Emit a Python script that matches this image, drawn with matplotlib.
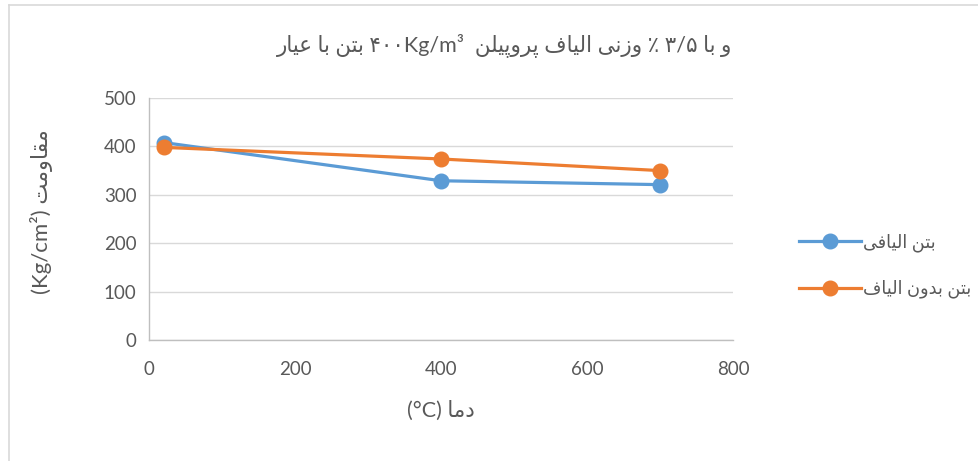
import matplotlib
matplotlib.use("Agg")

import matplotlib.pyplot as plt
from matplotlib.lines import Line2D

# Data
temps = [20, 400, 700]
with_fiber = [408, 329, 321]
without_fiber = [398, 374, 350]

x_ticks = [0, 200, 400, 600, 800]
y_ticks = [0, 100, 200, 300, 400, 500]

series_names = ["بتن الیافی", "بتن بدون الیاف"]
title_left = "بتن با عیار"
title_unit = "۴۰۰Kg/m³"
title_right = "و با ۳/۵ ٪ وزنی الیاف پروپیلن"
xlabel_fa = "دما"
ylabel_fa = "مقاومت"

blue = "#5B9BD5"
orange = "#ED7D31"

# Minimal Arabic/Persian shaping (matplotlib has no complex text layout)
# letter: (isolated, final, initial, medial); right-joining letters have only 2
FORMS = {
    "ا": ("\uFE8D", "\uFE8E"),
    "ب": ("\uFE8F", "\uFE90", "\uFE91", "\uFE92"),
    "پ": ("\uFB56", "\uFB57", "\uFB58", "\uFB59"),
    "ت": ("\uFE95", "\uFE96", "\uFE97", "\uFE98"),
    "د": ("\uFEA9", "\uFEAA"),
    "ر": ("\uFEAD", "\uFEAE"),
    "ز": ("\uFEAF", "\uFEB0"),
    "ع": ("\uFEC9", "\uFECA", "\uFECB", "\uFECC"),
    "ف": ("\uFED1", "\uFED2", "\uFED3", "\uFED4"),
    "ق": ("\uFED5", "\uFED6", "\uFED7", "\uFED8"),
    "ل": ("\uFEDD", "\uFEDE", "\uFEDF", "\uFEE0"),
    "م": ("\uFEE1", "\uFEE2", "\uFEE3", "\uFEE4"),
    "ن": ("\uFEE5", "\uFEE6", "\uFEE7", "\uFEE8"),
    "و": ("\uFEED", "\uFEEE"),
    "ی": ("\uFEEF", "\uFEF0", "\uFEF3", "\uFEF4"),
}


def shape_word(word):
    if not any(c in FORMS for c in word):
        return word
    out = []
    for i, c in enumerate(word):
        if c not in FORMS:
            out.append(c)
            continue
        prev = word[i-1] if i > 0 else None
        nxt = word[i+1] if i < len(word)-1 else None
        joins_prev = prev in FORMS and len(FORMS[prev]) == 4
        joins_next = nxt in FORMS and len(FORMS[c]) == 4
        f = FORMS[c]
        if joins_prev and joins_next:
            out.append(f[3])
        elif joins_prev:
            out.append(f[1])
        elif joins_next:
            out.append(f[2])
        else:
            out.append(f[0])
    return "".join(reversed(out))


def rtl(text):
    return " ".join(shape_word(w) for w in reversed(text.split()))


plt.rcParams["font.family"] = ["Lato", "DejaVu Sans"]
grey_text = "#595959"

fig = plt.figure(figsize=(9.79, 4.61), dpi=100)
W, H = 979, 461

# Chart frame (cropped on the right and bottom)
fig.add_artist(Line2D([9/W, 1], [1-5.5/H, 1-5.5/H], color="#d9d9d9", lw=1.2))
fig.add_artist(Line2D([9/W, 9/W], [0, 1-5.5/H], color="#d9d9d9", lw=1.2))

ax = fig.add_axes([149/W, 1-340/H, 584/W, 242/H])
ax.plot(temps, with_fiber, color=blue, lw=2.3, marker="o", ms=10.5, label=rtl(series_names[0]))
ax.plot(temps, without_fiber, color=orange, lw=2.3, marker="o", ms=10.5, label=rtl(series_names[1]))

ax.set_xlim(0, 800)
ax.set_ylim(0, 500)
ax.set_xticks(x_ticks)
ax.set_yticks(y_ticks)
ax.tick_params(length=0, labelsize=13.5, labelcolor=grey_text)
ax.tick_params(axis="x", pad=15)
ax.tick_params(axis="y", pad=9)
ax.grid(axis="y", color="#d9d9d9", lw=1)
ax.set_axisbelow(True)
for side in ("top", "right"):
    ax.spines[side].set_visible(False)
for side in ("left", "bottom"):
    ax.spines[side].set_color("#bfbfbf")
    ax.spines[side].set_linewidth(1)

fig.text(505/W, 1-45/H, rtl(title_left) + " " + title_unit + "  " + rtl(title_right),
         ha="center", va="center", fontsize=15.5, color=grey_text)
fig.text(441/W, 1-411/H, "(°C) " + rtl(xlabel_fa),
         ha="center", va="center", fontsize=15.5, color=grey_text)
fig.text(42/W, 1-212/H, "(Kg/cm²) " + rtl(ylabel_fa), rotation=90,
         ha="center", va="center", fontsize=16, color=grey_text)

fig.legend(loc="center left", bbox_to_anchor=(783/W, 1-266/H), frameon=False,
           fontsize=12.8, labelspacing=1.55, handlelength=3.5, handletextpad=0.12,
           labelcolor=grey_text)

fig.savefig("out.png", dpi=100)
